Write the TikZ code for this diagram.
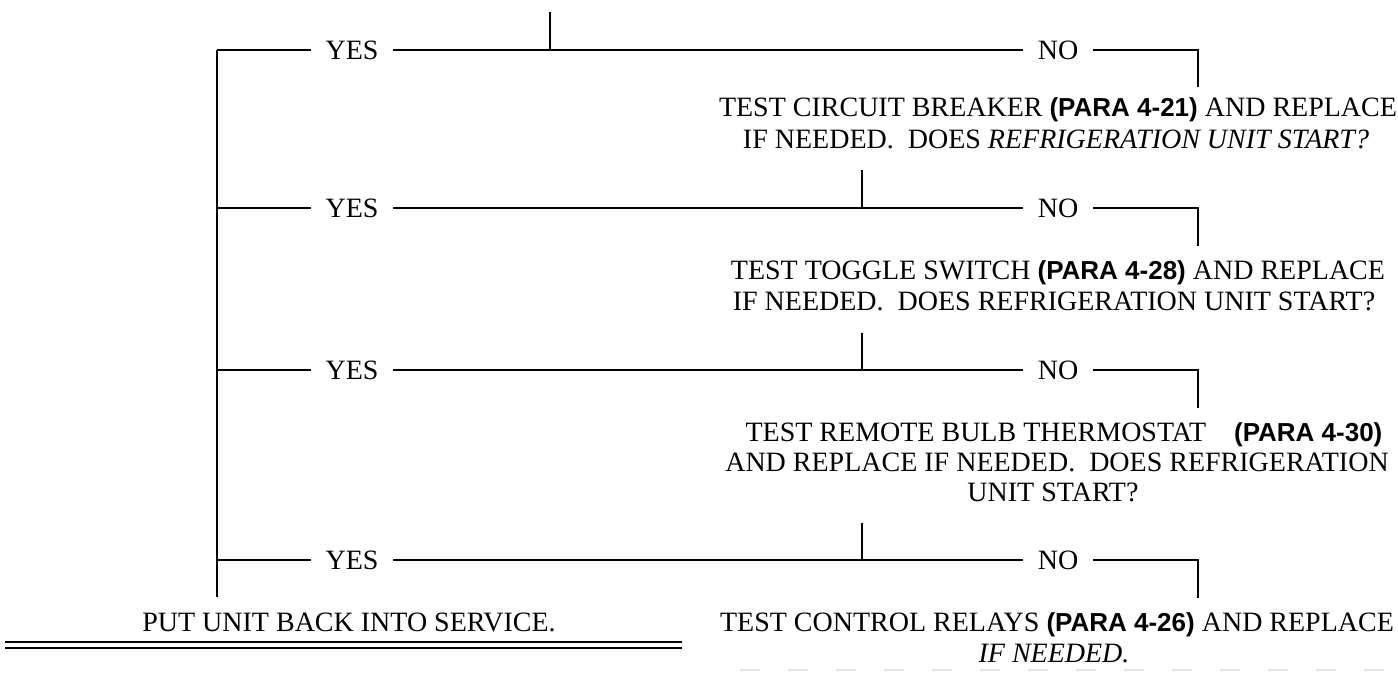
\documentclass[tikz,border=0pt]{standalone}
\usepackage{fontspec}
\setmainfont{Liberation Serif}
\newfontfamily\parafont{Liberation Sans}
\newcommand{\parabold}[1]{{\parafont\bfseries\fontsize{13}{15}\selectfont #1}}
\tikzset{
  conn/.style={line width=1pt},
  rule/.style={line width=1.1pt},
  lbl/.style={font=\fontsize{14}{15}\selectfont, inner sep=0pt, anchor=base},
  yn/.style={font=\fontsize{14}{15}\selectfont, inner xsep=7pt, inner ysep=0pt, text height=9.3pt, text depth=0pt},
}
\begin{document}
\begin{tikzpicture}[x=0.5pt, y=-0.5pt]
\useasboundingbox (0,0) rectangle (1398,673);

% ---- junction / corner coordinates
\coordinate (top) at (550,12);
\coordinate (J1) at (550,50);
\coordinate (L1) at (217,50);
\coordinate (L2) at (217,208);
\coordinate (L3) at (217,370);
\coordinate (L4) at (217,560);
\coordinate (Lend) at (217,597);
\coordinate (R1) at (1198,50);
\coordinate (R2) at (1198,208);
\coordinate (R3) at (1198,370);
\coordinate (R4) at (1198,560);
\coordinate (D1) at (1198,87);
\coordinate (D2) at (1198,246);
\coordinate (D3) at (1198,408);
\coordinate (D4) at (1198,598);
\coordinate (V1) at (862,170);
\coordinate (J2) at (862,208);
\coordinate (V2) at (862,333);
\coordinate (J3) at (862,370);
\coordinate (V3) at (862,523);
\coordinate (J4) at (862,560);

% ---- YES / NO labels
\node[yn] (yes1) at (352,50) {YES};
\node[yn] (no1) at (1058,50) {NO};
\node[yn] (yes2) at (352,208) {YES};
\node[yn] (no2) at (1058,208) {NO};
\node[yn] (yes3) at (352,370) {YES};
\node[yn] (no3) at (1058,370) {NO};
\node[yn] (yes4) at (352,560) {YES};
\node[yn] (no4) at (1058,560) {NO};

% ---- text blocks
\node[lbl] (t1a) at (1058,117) {TEST CIRCUIT BREAKER \parabold{(PARA 4-21)} AND REPLACE};
\node[lbl] (t1b) at (1056,149) {IF NEEDED.\ \ DOES \textit{REFRIGERATION UNIT START?}};
\node[lbl] (t2a) at (1058,280) {TEST TOGGLE SWITCH \parabold{(PARA 4-28)} AND REPLACE};
\node[lbl] (t2b) at (1054,311) {IF NEEDED.\ \ DOES REFRIGERATION UNIT START?};
\node[lbl] (t3a) at (1064,442) {TEST REMOTE BULB THERMOSTAT\hspace{14pt}\parabold{(PARA 4-30)}};
\node[lbl] (t3b) at (1057,472) {AND REPLACE IF NEEDED.\ \ DOES REFRIGERATION};
\node[lbl] (t3c) at (1053,502) {UNIT START?};
\node[lbl] (t4a) at (1057,632) {TEST CONTROL RELAYS \parabold{(PARA 4-26)} AND REPLACE};
\node[lbl] (t4b) at (1054,662) {\textit{IF NEEDED.}};
\node[lbl] (put) at (349,632) {PUT UNIT BACK INTO SERVICE.};

% ---- connectors
\draw[conn] (top) -- (J1);
\draw[conn] (L1) -- (yes1);
\draw[conn] (yes1) -- (no1);
\draw[conn] (no1) -- (R1) -- (D1);
\draw[conn] (V1) -- (J2);
\draw[conn] (L2) -- (yes2);
\draw[conn] (yes2) -- (no2);
\draw[conn] (no2) -- (R2) -- (D2);
\draw[conn] (V2) -- (J3);
\draw[conn] (L3) -- (yes3);
\draw[conn] (yes3) -- (no3);
\draw[conn] (no3) -- (R3) -- (D3);
\draw[conn] (V3) -- (J4);
\draw[conn] (L4) -- (yes4);
\draw[conn] (yes4) -- (no4);
\draw[conn] (no4) -- (R4) -- (D4);
\draw[conn] (L1) -- (Lend);

% ---- closing rules
\draw[rule] (5,642) -- (682,642);
\draw[rule] (5,648) -- (682,648);
\draw[gray!20, line width=0.6pt, dash pattern=on 10pt off 14pt] (740,670) -- (1398,670);
\end{tikzpicture}
\end{document}
